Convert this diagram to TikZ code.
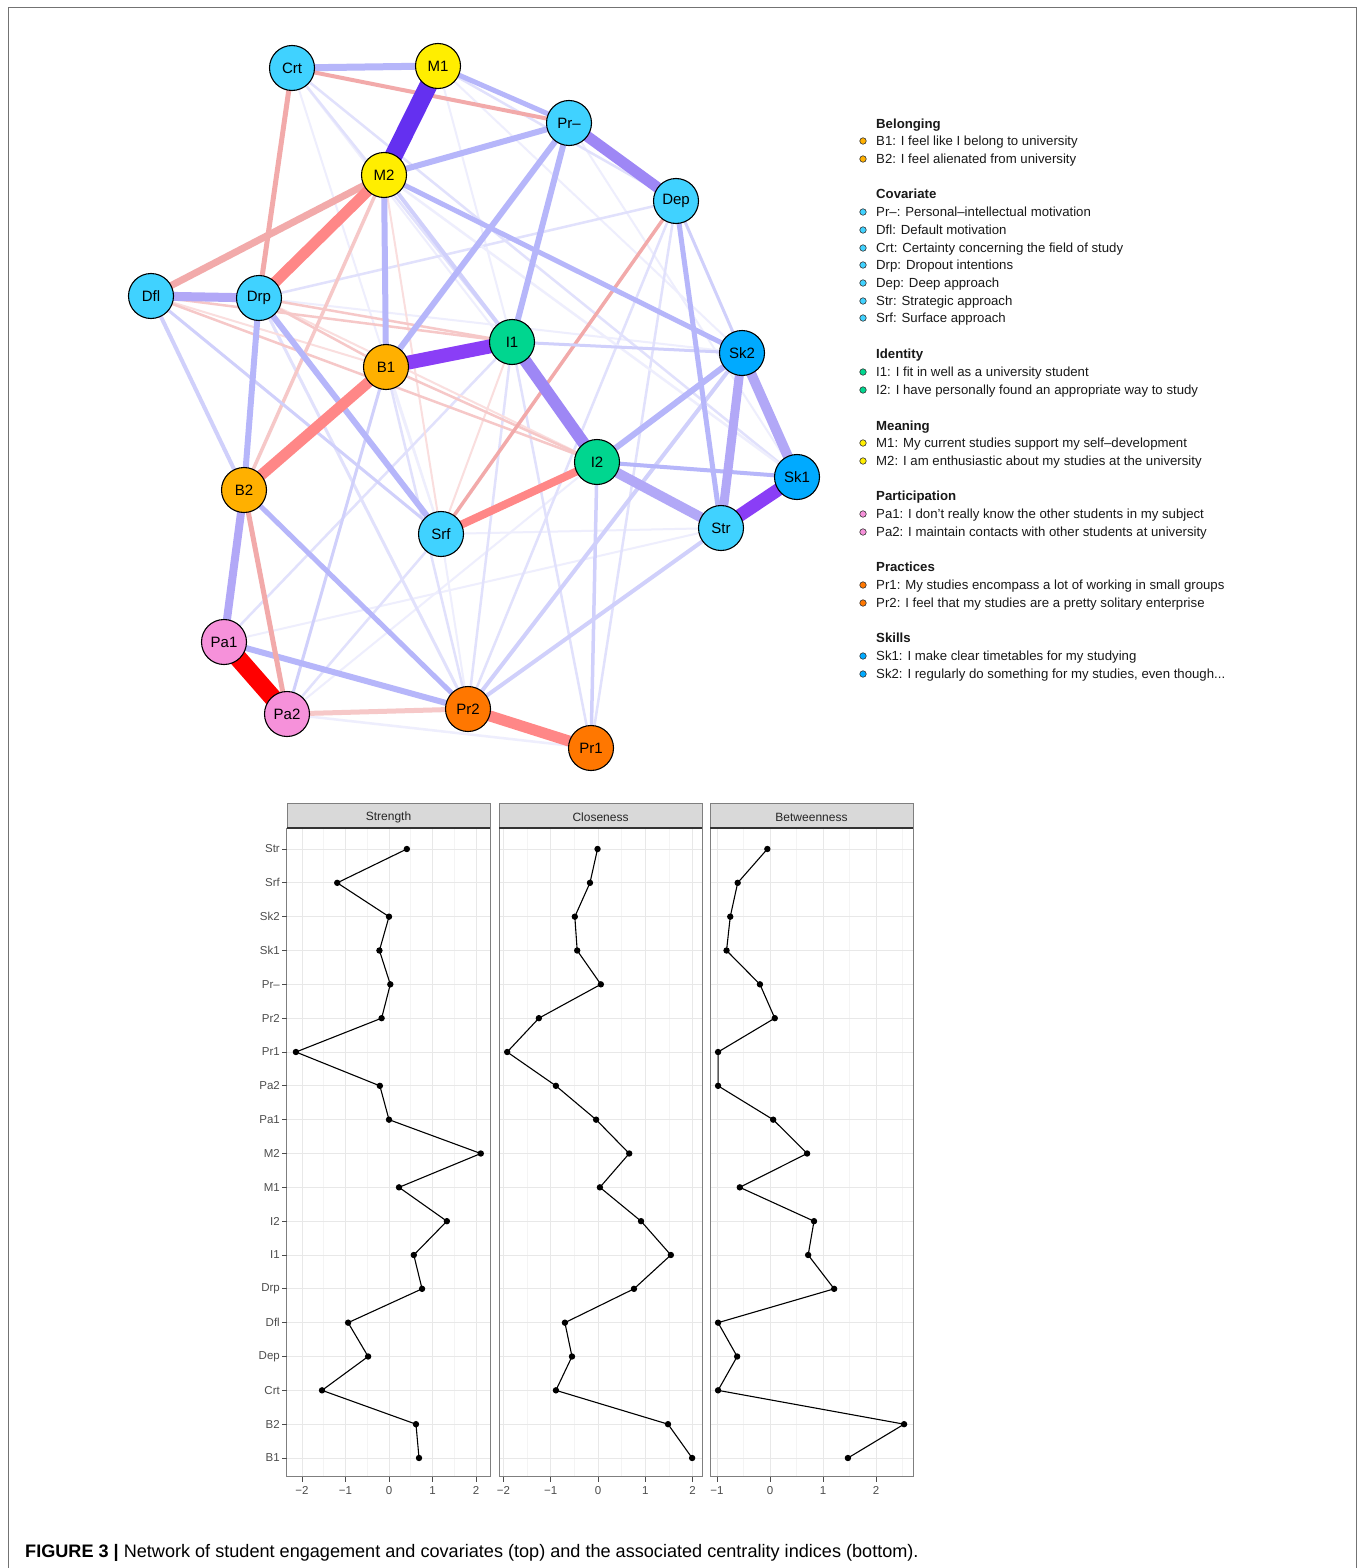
\documentclass[tikz,border=0pt]{standalone}
\usepackage{fontspec}
\setmainfont{Liberation Sans}
\pgfdeclarelayer{bgfill}
\pgfdeclarelayer{edges}
\pgfsetlayers{bgfill,edges,main}
% node colours
\definecolor{covc}{RGB}{64,210,255}
\definecolor{skic}{RGB}{0,170,255}
\definecolor{meac}{RGB}{255,238,0}
\definecolor{idec}{RGB}{0,214,143}
\definecolor{belc}{RGB}{255,176,0}
\definecolor{parc}{RGB}{246,145,218}
\definecolor{prac}{RGB}{255,119,0}
% edge colours
\definecolor{pA}{RGB}{100,48,240}
\definecolor{pB}{RGB}{138,62,246}
\definecolor{pC}{RGB}{158,135,245}
\definecolor{pD}{RGB}{178,168,247}
\definecolor{pE}{RGB}{182,182,250}
\definecolor{pF}{RGB}{208,208,251}
\definecolor{pG}{RGB}{225,225,252}
\definecolor{pH}{RGB}{238,238,253}
\definecolor{nA}{RGB}{255,0,0}
\definecolor{nB}{RGB}{255,135,135}
\definecolor{nC}{RGB}{242,170,170}
\definecolor{nD}{RGB}{246,200,200}
\definecolor{nE}{RGB}{250,222,222}
% plot colours
\definecolor{gmaj}{RGB}{232,232,232}
\definecolor{gmin}{RGB}{244,244,244}
\definecolor{pbord}{RGB}{127,127,127}
\definecolor{hfill}{RGB}{217,217,217}
\definecolor{axtxt}{RGB}{77,77,77}

\newcommand\lgitem[4]{%
  \node[lgdot,fill=#3] (d#1) at (863,#2) {};
  \node[lgt] (t#1) at (876,#2+4.6) {#4};}
\newcommand\lghead[3]{\node[lgh] (h#1) at (876,#2+4.6) {#3};}

% #1 zero px, #2 unit px, #3 left, #4 right, #5 title, #6 majors v/label, #7 minors, #8 data, #9 prefix
\newcommand\centpanel[9]{%
\begin{scope}[shift={(#1,849)}, x=#2pt, y=-33.833pt]
  \fill[white] (#3,-0.62) rectangle (#4,18.56);
  \foreach \v in {#7} \draw[gminor] (\v,-0.62) -- (\v,18.56);
  \foreach \v/\tl in {#6} {
    \draw[gmajor] (\v,-0.62) -- (\v,18.56);
    \draw[axtick] (\v,18.56) -- (\v,18.71);
    \node[ticklab] (#9t\tl) at (\v,18.97) {\tl};
  }
  \foreach \i in {0,...,18} \draw[gmajor] (#3,\i) -- (#4,\i);
  \draw[dline] plot[mark=*, mark size=2.6pt, mark options={fill=black,draw=black}] coordinates {#8};
  \draw[pborder] (#3,-0.62) rectangle (#4,18.56);
  \draw[hbox] (#3,-1.36) rectangle (#4,-0.62);
  \draw[black!80, line width=1.1pt] (#3,-0.62) -- (#4,-0.62);
  \node[htext] (#9h) at ({(#3+#4)/2},-0.93) {#5};
\end{scope}}

\begin{document}
\begin{tikzpicture}[x=1pt,y=-1pt,
  nd/.style={circle,draw=black,line width=1.1pt,minimum size=45pt,inner sep=0pt,
    font=\fontsize{15}{15}\selectfont},
  cov/.style={nd,fill=covc}, ski/.style={nd,fill=skic}, mea/.style={nd,fill=meac},
  ide/.style={nd,fill=idec}, bel/.style={nd,fill=belc}, par/.style={nd,fill=parc},
  pra/.style={nd,fill=prac},
  lgdot/.style={circle,draw=black!80,line width=0.6pt,minimum size=6.5pt,inner sep=0pt},
  lgt/.style={anchor=base west,inner sep=0pt,font=\fontsize{13.2}{13}\selectfont,text=black!90},
  lgh/.style={anchor=base west,inner sep=0pt,font=\fontsize{13.2}{13}\selectfont\bfseries,text=black!90},
  gmajor/.style={draw=gmaj,line width=0.9pt},
  gminor/.style={draw=gmin,line width=0.6pt},
  axtick/.style={draw=black!70,line width=0.8pt},
  ticklab/.style={font=\fontsize{11.5}{12}\selectfont,text=axtxt,inner sep=0pt},
  ylab/.style={anchor=east,font=\fontsize{11.5}{12}\selectfont,text=axtxt,inner sep=0pt},
  dline/.style={draw=black,line width=1.1pt},
  pborder/.style={draw=pbord,line width=1pt},
  hbox/.style={fill=hfill,draw=pbord,line width=0.8pt},
  htext/.style={font=\fontsize{12}{12}\selectfont,text=black!85,inner sep=0pt}
]
\useasboundingbox (0,0) rectangle (1362,1568);
\begin{pgfonlayer}{bgfill}
  \fill[white] (0,0) rectangle (1362,1568);
\end{pgfonlayer}
\draw[black!55,line width=1pt] (8,1570) -- (8,8) -- (1356,8) -- (1356,1570);

% ---------------- network nodes ----------------
\node[cov] (Crt) at (292,68) {Crt};
\node[mea] (M1)  at (438,66) {M1};
\node[cov] (Prm) at (569,123) {Pr–};
\node[mea] (M2)  at (384,175) {M2};
\node[cov] (Dep) at (676,201) {Dep};
\node[cov] (Dfl) at (151,296) {Dfl};
\node[cov] (Drp) at (259,298) {Drp};
\node[ide] (I1)  at (512,342) {I1};
\node[bel] (B1)  at (386,367) {B1};
\node[ski] (Sk2) at (742,353) {Sk2};
\node[ide] (I2)  at (597,462) {I2};
\node[ski] (Sk1) at (797,477) {Sk1};
\node[bel] (B2)  at (244,490) {B2};
\node[cov] (Str) at (721,528) {Str};
\node[cov] (Srf) at (441,534) {Srf};
\node[par] (Pa1) at (224,642) {Pa1};
\node[par] (Pa2) at (287,714) {Pa2};
\node[pra] (Pr2) at (468,709) {Pr2};
\node[pra] (Pr1) at (591,748) {Pr1};

% ---------------- network edges ----------------
\begin{pgfonlayer}{edges}
\foreach \ea/\eb/\ew/\ec in {
  Crt/I2/2/pH, Crt/Srf/2/pH, M1/Sk2/2/pH, M1/I1/2/pH, Drp/Sk2/2/pH, B1/Srf/2/pH,
  Srf/Pr2/2/pH, Prm/Sk1/2/pH, Pa1/Str/2/pH, Pa2/Pr1/2.5/pH, I2/Pa2/2/pH, Srf/Str/2/pH,
  Crt/Sk1/2.5/pG, Crt/I1/2.5/pG, M1/Dep/2.5/pG, Drp/Dep/2.5/pG, B1/Pr2/2.5/pG,
  I1/Pr1/2.5/pG, I1/Pr2/2.5/pG, Pa1/I1/2.5/pG, Pa2/Srf/2.5/pG, Pr2/Dep/2.5/pG,
  Pr1/Dep/2.5/pG, M2/Sk1/2.5/pH, Drp/Pr2/3/pG,
  Dfl/B1/2/nE, Drp/I2/2/nE, I1/Srf/2/nE, Srf/M2/2/nE,
  Dfl/I2/2.5/nD, Dfl/I1/2.5/nD, Drp/I1/2.5/nD, Drp/B1/2.5/nD, B1/I2/2.5/nD,
  Dep/Srf/3.5/nC, M2/B2/3.5/nD,
  Dfl/Srf/3/pF, I1/Sk2/3/pF, Pa2/B1/3/pF, Dep/Sk2/3/pF, M2/I1/4/pF, Str/Pr2/4/pF,
  Pr2/Sk2/4/pF, Dfl/B2/4/pF, I2/Pr1/3.5/pF,
  Crt/M1/7/pE, Drp/B2/6/pE, Drp/Srf/6/pE, M2/B1/6/pE, M2/Prm/6/pE, B1/Prm/6/pE,
  I1/Prm/6/pE, Pa1/Pr2/6/pE, I2/Sk2/6/pE, B2/Pr2/5/pE, M1/Prm/5/pE, M2/Sk2/5/pE,
  Dep/Str/5/pE, I2/Sk1/4/pE,
  Crt/Drp/5/nC, Crt/Prm/4/nC, B2/Pa2/5/nC, Pa2/Pr2/5/nD, M2/Dfl/7/nC,
  Sk2/Sk1/10/pD, I2/Str/10/pD, Dfl/Drp/9/pD, Sk2/Str/9/pD, B2/Pa1/8/pD,
  I1/I2/12/pC, Prm/Dep/11/pC,
  Pr2/Pr1/11/nB, B1/B2/11/nB, M2/Drp/11/nB, Srf/I2/8/nB,
  B1/I1/14/pB, Sk1/Str/13/pB,
  M1/M2/18/pA, Pa1/Pa2/18/nA}
  \draw[line width=\ew pt, draw=\ec] (\ea.center) -- (\eb.center);
\end{pgfonlayer}

% ---------------- legend ----------------
\lghead{Bel}{124}{Belonging}
\lgitem{B1}{141}{belc}{B1: I feel like I belong to university}
\lgitem{B2}{159}{belc}{B2: I feel alienated from university}
\lghead{Cov}{194}{Covariate}
\lgitem{Prm}{212}{covc}{Pr–: Personal–intellectual motivation}
\lgitem{Dfl}{230}{covc}{Dfl: Default motivation}
\lgitem{Crt}{248}{covc}{Crt: Certainty concerning the field of study}
\lgitem{Drp}{265}{covc}{Drp: Dropout intentions}
\lgitem{Dep}{283}{covc}{Dep: Deep approach}
\lgitem{Str}{301}{covc}{Str: Strategic approach}
\lgitem{Srf}{318}{covc}{Srf: Surface approach}
\lghead{Ide}{354}{Identity}
\lgitem{I1}{372}{idec}{I1: I fit in well as a university student}
\lgitem{I2}{390}{idec}{I2: I have personally found an appropriate way to study}
\lghead{Mea}{426}{Meaning}
\lgitem{M1}{443}{meac}{M1: My current studies support my self–development}
\lgitem{M2}{461}{meac}{M2: I am enthusiastic about my studies at the university}
\lghead{Par}{496}{Participation}
\lgitem{Pa1}{514}{parc}{Pa1: I don't really know the other students in my subject}
\lgitem{Pa2}{532}{parc}{Pa2: I maintain contacts with other students at university}
\lghead{Pra}{567}{Practices}
\lgitem{Pr1}{585}{prac}{Pr1: My studies encompass a lot of working in small groups}
\lgitem{Pr2}{603}{prac}{Pr2: I feel that my studies are a pretty solitary enterprise}
\lghead{Ski}{638}{Skills}
\lgitem{Sk1}{656}{skic}{Sk1: I make clear timetables for my studying}
\lgitem{Sk2}{674}{skic}{Sk2: I regularly do something for my studies, even though...}

% ---------------- centrality panels ----------------
\centpanel{389}{43.5}{-2.345}{2.322}{Strength}
  {-2/−2,-1/−1,0/0,1/1,2/2}{-1.5,-0.5,0.5,1.5}
  {(0.41,0) (-1.19,1) (0.0,2) (-0.22,3) (0.03,4) (-0.17,5) (-2.14,6) (-0.21,7) (0.0,8)
   (2.11,9) (0.23,10) (1.33,11) (0.57,12) (0.76,13) (-0.94,14) (-0.48,15) (-1.54,16)
   (0.62,17) (0.69,18)}{st}
\centpanel{598}{47.3}{-2.093}{2.199}{Closeness}
  {-2/−2,-1/−1,0/0,1/1,2/2}{-1.5,-0.5,0.5,1.5}
  {(-0.01,0) (-0.17,1) (-0.49,2) (-0.44,3) (0.06,4) (-1.25,5) (-1.92,6) (-0.89,7) (-0.04,8)
   (0.66,9) (0.04,10) (0.91,11) (1.54,12) (0.76,13) (-0.70,14) (-0.55,15) (-0.89,16)
   (1.48,17) (1.99,18)}{cl}
\centpanel{770}{53}{-1.132}{2.698}{Betweenness}
  {-1/−1,0/0,1/1,2/2}{-0.5,0.5,1.5,2.5}
  {(-0.05,0) (-0.61,1) (-0.75,2) (-0.82,3) (-0.19,4) (0.09,5) (-0.98,6) (-0.98,7) (0.06,8)
   (0.70,9) (-0.57,10) (0.83,11) (0.72,12) (1.21,13) (-0.98,14) (-0.62,15) (-0.98,16)
   (2.53,17) (1.47,18)}{bt}

\foreach \lab [count=\i from 0] in {Str,Srf,Sk2,Sk1,Pr–,Pr2,Pr1,Pa2,Pa1,M2,M1,I2,I1,Drp,Dfl,Dep,Crt,B2,B1} {
  \draw[axtick] (282,{849+33.833*\i}) -- (287,{849+33.833*\i});
  \node[ylab] (yl\i) at (280,{849+33.833*\i}) {\lab};
}

% ---------------- caption ----------------
\node[anchor=base west,inner sep=0pt,font=\fontsize{18.1}{18}\selectfont] (cap) at (25,1557)
  {\textbf{FIGURE 3 |} Network of student engagement and covariates (top) and the associated centrality indices (bottom).};
\end{tikzpicture}
\end{document}
